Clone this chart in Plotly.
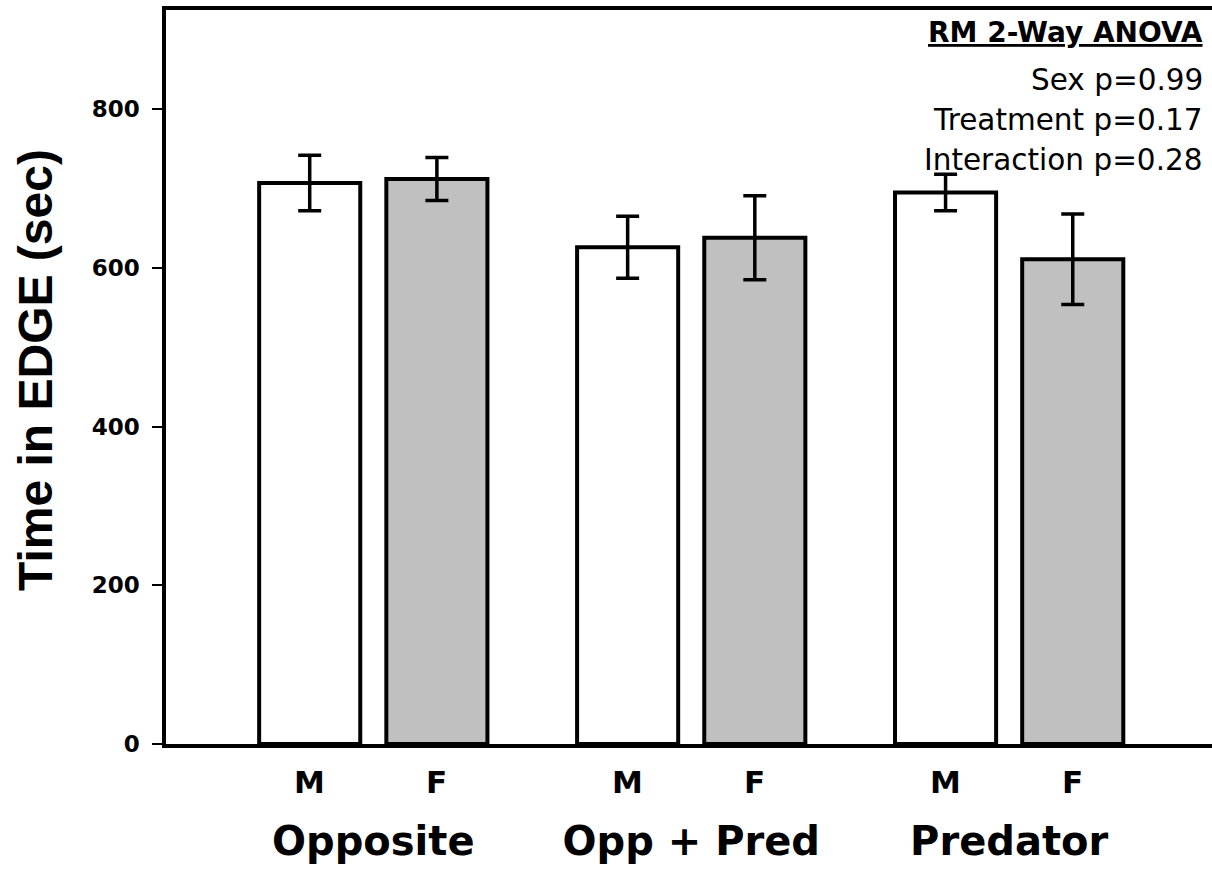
import plotly.graph_objects as go

treatments = ["Opposite", "Opp + Pred", "Predator"]
sex_labels = ["M", "F"]
male_mean = [707, 626, 695]
male_sem = [35, 39, 23]
female_mean = [712, 638, 611]
female_sem = [27, 53, 57]
y_ticks = [0, 200, 400, 600, 800]
stats_title = "RM 2-Way ANOVA"
stats_lines = ["Sex p=0.99", "Treatment p=0.17", "Interaction p=0.28"]

BOLD = dict(family="DejaVu Sans", color="black", weight="bold")

fig = go.Figure()
fig.add_trace(go.Bar(
    x=treatments, y=male_mean, name="M",
    marker=dict(color="white", line=dict(color="black", width=4)),
    error_y=dict(type="data", array=male_sem, color="black", thickness=3.5, width=11.5),
))
fig.add_trace(go.Bar(
    x=treatments, y=female_mean, name="F",
    marker=dict(color="#c0c0c0", line=dict(color="black", width=4)),
    error_y=dict(type="data", array=female_sem, color="black", thickness=3.5, width=11.5),
))

fig.update_layout(
    width=1212, height=869,
    margin=dict(l=166, r=0, t=10, b=125),
    paper_bgcolor="white", plot_bgcolor="white",
    barmode="group", bargap=0.2, bargroupgap=0.205,
    showlegend=False,
)
fig.update_xaxes(
    range=[-0.652, 2.638], showline=True, linewidth=3.5, linecolor="black",
    mirror=True, ticks="", showgrid=False, zeroline=False,
    tickfont=dict(size=40, **BOLD), ticklabelstandoff=59,
)
fig.update_yaxes(
    range=[0, 925], tickvals=y_ticks, showline=True, linewidth=3.5, linecolor="black",
    ticks="outside", ticklen=10, tickwidth=2, tickcolor="black",
    showgrid=False, zeroline=False,
    tickfont=dict(size=23, **BOLD), ticklabelstandoff=8,
)

# M / F labels under each bar
for i, t in enumerate(treatments):
    for off, lab in zip([-0.2, 0.2], sex_labels):
        fig.add_annotation(x=i + off, xref="x", y=0, yref="paper", yshift=-38,
                           text=lab, showarrow=False, xanchor="center", yanchor="middle",
                           font=dict(size=31, **BOLD))

# y axis title
fig.add_annotation(x=0, xref="paper", xshift=-131, y=0.5, yref="paper", yshift=7,
                   text="Time in EDGE (sec)", textangle=-90, showarrow=False,
                   xanchor="center", yanchor="middle",
                   font=dict(family="Liberation Sans", size=48, color="black", weight="bold"))

# stats box
fig.add_annotation(x=1, xref="paper", xshift=-7, y=0.9687, yref="paper",
                   text="<u>" + stats_title + "</u>", showarrow=False,
                   xanchor="right", yanchor="middle", font=dict(size=28, **BOLD))
for yy, line in zip([0.9046, 0.8501, 0.7956], stats_lines):
    fig.add_annotation(x=1, xref="paper", xshift=-7, y=yy, yref="paper",
                       text=line, showarrow=False, xanchor="right", yanchor="middle",
                       font=dict(family="DejaVu Sans", size=29.5, color="black"))

fig.write_html("out.html", config={"displayModeBar": False},
               post_script="document.body.style.margin='0';document.body.style.overflow='hidden';")
